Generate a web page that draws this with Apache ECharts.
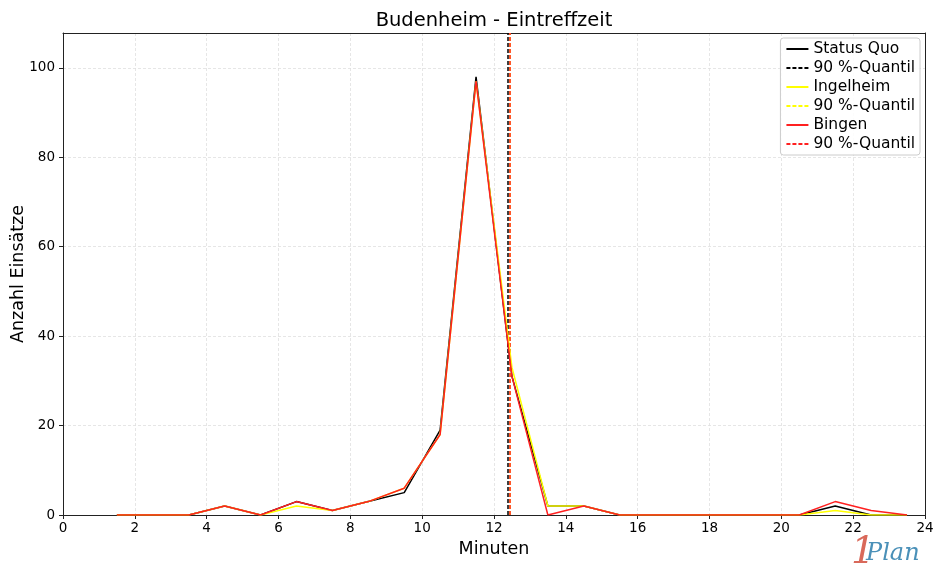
<!DOCTYPE html>
<html>
<head>
<meta charset="utf-8">
<script src="https://cdn.jsdelivr.net/npm/echarts@6/dist/echarts.min.js"></script>
<style>
html,body{margin:0;padding:0;background:#fff;}
#chart{width:936px;height:583px;}
</style>
</head>
<body>
<div id="chart"></div>
<script>
const minutes = [1.5,2.5,3.5,4.5,5.5,6.5,7.5,8.5,9.5,10.5,11.5,12.5,13.5,14.5,15.5,16.5,17.5,18.5,19.5,20.5,21.5,22.5,23.5];
const statusQuo = [0,0,0,2,0,3,1,3,5,19,98,31,2,2,0,0,0,0,0,0,2,0,0];
const ingelheim = [0,0,0,2,0,2,1,3,6,18,97,33,2,2,0,0,0,0,0,0,1,0,0];
const bingen    = [0,0,0,2,0,3,1,3,6,18,97,31,0,2,0,0,0,0,0,0,3,1,0];
const quantileStatusQuo = 12.39;
const quantileIngelheim = 12.44;
const quantileBingen = 12.45;
const xTicks = [0,2,4,6,8,10,12,14,16,18,20,22,24];
const yTicks = [0,20,40,60,80,100];
const yMax = 107.8;

const pairs = arr => minutes.map((m,i)=>[m,arr[i]]);
const font = 'DejaVu Sans';

function lineSeries(name, data, color, z){
  return {name, type:'line', data:pairs(data), symbol:'none', showSymbol:false, z,
    lineStyle:{color, width:1.5}, itemStyle:{color}, animation:false};
}
function quantSeries(name, x, color, z){
  return {name, type:'line', data:[], symbol:'none', showSymbol:false, z,
    lineStyle:{color, width:1.5, type:[4,2]}, itemStyle:{color}, animation:false,
    markLine:{silent:true, symbol:'none', label:{show:false},
      lineStyle:{color, width:1.5, type:[4,2]}, data:[{xAxis:x}], animation:false}};
}
const frameAxis = {show:true, axisLine:{show:true, onZero:false, lineStyle:{color:'#222'}},
  axisTick:{show:false}, axisLabel:{show:false}, splitLine:{show:false}};

const chart = echarts.init(document.getElementById('chart'));
chart.setOption({
  animation:false,
  grid:{left:63, right:11, top:33, bottom:68, outerBoundsMode:'none', containLabel:false},
  legend:{
    orient:'vertical', right:16, top:38, padding:[3,5,3,5],
    backgroundColor:'rgba(255,255,255,0.85)', borderColor:'#ccc', borderWidth:1, borderRadius:3,
    itemWidth:22, itemHeight:10, itemGap:3,
    itemStyle:{opacity:0},
    textStyle:{fontFamily:font, fontSize:15.5, color:'#000'},
    data:[
      {name:'Status Quo'},
      {name:'90 %-Quantil'},
      {name:'Ingelheim'},
      {name:'90 %-Quantil '},
      {name:'Bingen'},
      {name:'90 %-Quantil  '}
    ],
    formatter: n => n.trim()
  },
  xAxis:[{type:'value', min:0, max:24, interval:2, position:'bottom',
    name:'Minuten', nameLocation:'middle', nameGap:25,
    nameTextStyle:{fontFamily:font, fontSize:17.5, color:'#000'},
    axisLine:{show:true, onZero:false, lineStyle:{color:'#222'}},
    axisTick:{show:true, length:4, lineStyle:{color:'#222'}},
    axisLabel:{fontFamily:font, fontSize:13.5, color:'#000', margin:6,
      formatter: v => xTicks.includes(v) ? String(v) : ''},
    splitLine:{show:true, lineStyle:{color:'#e0e0e0', type:[3,2], width:0.8}}},
    Object.assign({type:'value', min:0, max:24, position:'top'}, frameAxis)],
  yAxis:[{type:'value', min:0, max:yMax, interval:20, position:'left',
    axisLine:{show:true, onZero:false, lineStyle:{color:'#222'}},
    axisTick:{show:true, length:4, lineStyle:{color:'#222'}},
    axisLabel:{fontFamily:font, fontSize:13.5, color:'#000', margin:8, showMaxLabel:false,
      formatter: v => yTicks.includes(v) ? String(v) : ''},
    splitLine:{show:true, lineStyle:{color:'#e0e0e0', type:[3,2], width:0.8}}},
    Object.assign({type:'value', min:0, max:yMax, position:'right'}, frameAxis)],
  series:[
    lineSeries('Status Quo', statusQuo, '#000000', 3),
    quantSeries('90 %-Quantil', quantileStatusQuo, '#000000', 4),
    lineSeries('Ingelheim', ingelheim, '#ffff00', 5),
    quantSeries('90 %-Quantil ', quantileIngelheim, '#ffff00', 6),
    lineSeries('Bingen', bingen, '#ff2020', 7),
    quantSeries('90 %-Quantil  ', quantileBingen, '#ff2020', 8)
  ],
  graphic:[
    {type:'text', x:494, y:11, style:{text:'Budenheim - Eintreffzeit', fontFamily:font, fontSize:19.5, fill:'#000', textAlign:'center'}},
    {type:'text', x:18, y:274, rotation:Math.PI/2, style:{text:'Anzahl Einsätze', fontFamily:font, fontSize:17.5, fill:'#000', textAlign:'center', textVerticalAlign:'middle'}},
    {type:'text', left:851, top:534, style:{text:'1', fontFamily:'DejaVu Serif', fontStyle:'italic', fontSize:38, fill:'#d9695a'}},
    {type:'text', left:866, top:542, style:{text:'Plan', fontFamily:'DejaVu Serif', fontStyle:'italic', fontSize:24, fill:'#4a90b8'}}
  ]
});
</script>
</body>
</html>
